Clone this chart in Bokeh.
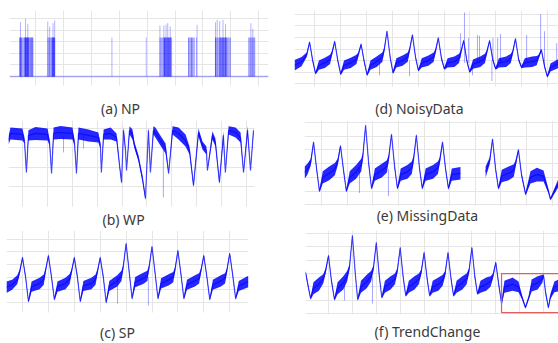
import numpy as np
from bokeh.plotting import figure
from bokeh.layouts import column, row
from bokeh.models import Label, FixedTicker, Range1d, BoxAnnotation
from bokeh.embed import file_html
from bokeh.resources import INLINE

BLUE = "#0000ff"
GRID = "#e5e5e5"
TXT = "#3a3a3a"
FONT = "Noto Sans"

titles = ["(a) NP", "(b) WP", "(c) SP", "(d) NoisyData", "(e) MissingData", "(f) TrendChange"]

# ---------------- (a) NP : bursts of pulses on a zero baseline ----------------
np_span = [7, 935]
np_level = 3.36
np_burst_x = [43, 44.5, 46, 47.5, 49, 50.5, 52, 55, 58, 61,
              62, 63, 64, 65, 66, 67, 68, 69, 70, 71, 72, 73, 74, 75, 76,
              78, 80, 82, 84, 85, 87, 88, 90, 91,
              144, 147, 150, 153, 156, 158,
              160, 161, 162, 163, 164, 165, 166, 167, 168, 169,
              374, 497,
              546, 549, 552, 555, 558,
              561, 562, 562, 563, 565, 566, 568, 569, 571, 572, 574, 575, 577, 578, 578,
              580, 581, 583, 584, 586, 588,
              649, 649, 651, 655, 658, 660, 660, 663, 666, 670, 677,
              745, 745, 748, 751, 754, 757,
              760, 761.5, 763, 764.5, 766, 767.5, 769, 770.5, 772, 773.5, 775, 776.5,
              778, 779.5, 781, 782.5, 784, 785.5, 787,
              790, 793, 796, 799,
              864, 866, 869, 872, 875, 878, 881, 884, 886]
np_peak_x = [46.4, 64.3, 72.6, 144, 151, 163, 169, 546, 560, 568, 574, 583, 679,
             745, 751, 760, 772, 781, 872, 879]
np_peak_v = [4.68, 4.97, 4.54, 4.74, 4.31, 4.60, 4.83, 4.40, 4.40, 4.48, 4.60, 4.31, 4.45,
             4.68, 4.88, 4.77, 4.88, 4.54, 4.60, 4.11]

# ---------------- (b) WP ----------------
wp_t = [44, 52, 100, 108, 116, 124, 152, 201, 209, 217, 225, 253, 301, 309, 317, 325, 365,
        405, 413, 417, 426, 454, 478, 490, 498, 506, 514, 518, 530, 542, 550, 566, 582, 594,
        606, 614, 626, 634, 654, 675, 687, 703, 727, 755, 771, 787, 807, 823, 839, 843, 863,
        875, 891, 907, 915, 928, 956, 976, 988, 1004, 1016, 1028]
wp_v = [3.39, 3.75, 3.70, 3.39, 1.73, 3.65, 3.75, 3.70, 3.28, 1.68, 3.75, 3.80, 3.75, 3.28,
        1.68, 3.75, 3.65, 3.54, 3.13, 1.73, 3.70, 3.75, 3.54, 2.10, 1.22, 3.91, 2.87, 1.84,
        3.91, 3.70, 3.13, 2.46, 1.42, 0.39, 3.91, 1.73, 3.91, 3.80, 3.39, 2.97, 1.68, 3.91,
        3.75, 3.39, 2.87, 1.06, 3.80, 3.13, 2.87, 1.84, 3.65, 3.28, 1.22, 3.65, 1.73, 3.91,
        3.80, 3.54, 1.73, 3.91, 1.84, 3.91]
wp_n = [0.21, 0.31, 0.31, 0.16, 0.05, 0.26, 0.34, 0.31, 0.16, 0.05, 0.31, 0.34, 0.31, 0.16,
        0.05, 0.31, 0.31, 0.26, 0.16, 0.05, 0.26, 0.31, 0.21, 0.10, 0.10, 0.16, 0.10, 0.05,
        0.21, 0.26, 0.16, 0.16, 0.16, 0.10, 0.16, 0.05, 0.21, 0.26, 0.26, 0.26, 0.05, 0.21,
        0.31, 0.31, 0.21, 0.10, 0.21, 0.21, 0.21, 0.05, 0.21, 0.21, 0.10, 0.21, 0.05, 0.21,
        0.26, 0.26, 0.05, 0.21, 0.05, 0.16]
wp_spike_t = [265, 345, 666]
wp_spike_base = [3.6, 3.6, 3.0]
wp_spike_tip = [2.77, 2.97, 0.44]

# ---------------- (c) SP ----------------
sp_t = [38, 60, 80, 89, 100, 112, 123, 135, 166, 182, 189, 200, 212, 223, 235, 266, 282, 289,
        300, 312, 323, 335, 366, 382, 389, 400, 412, 423, 435, 466, 482, 489, 500, 512, 523,
        535, 566, 582, 589, 600, 612, 623, 635, 666, 682, 689, 700, 712, 723, 735, 766, 782,
        789, 800, 812, 823, 835, 866, 882, 889, 900, 912, 923, 935, 972]
sp_v = [1.2, 1.4, 1.8, 2.4, 3.54, 2.0, 0.08, 1.25, 1.5, 1.8, 2.5, 3.70, 2.0, 0.24, 1.25, 1.5,
        1.85, 2.4, 3.54, 2.0, 0.08, 1.3, 1.5, 1.8, 2.4, 3.54, 2.0, 0.0, 1.3, 1.7, 2.1, 2.8,
        4.65, 2.4, 0.31, 1.6, 1.9, 2.1, 2.8, 4.41, 2.3, 0.31, 1.5, 1.8, 2.0, 2.6, 4.09, 2.2,
        0.31, 1.4, 1.7, 1.9, 2.5, 3.70, 2.0, 0.24, 1.4, 1.7, 1.9, 2.5, 3.86, 2.1, 0.31, 1.3,
        1.65]
sp_n = [0.45, 0.4, 0.35, 0.2, 0.1, 0.15, 0.1, 0.4, 0.45, 0.4, 0.2, 0.1, 0.15, 0.1, 0.4, 0.45,
        0.4, 0.2, 0.1, 0.15, 0.1, 0.4, 0.45, 0.4, 0.2, 0.1, 0.15, 0.1, 0.4, 0.45, 0.4, 0.2,
        0.1, 0.15, 0.1, 0.4, 0.45, 0.4, 0.2, 0.1, 0.15, 0.1, 0.4, 0.45, 0.4, 0.2, 0.1, 0.15,
        0.1, 0.4, 0.45, 0.4, 0.2, 0.1, 0.15, 0.1, 0.4, 0.45, 0.4, 0.2, 0.1, 0.15, 0.1, 0.4,
        0.45]
sp_spike_t = [467, 586]
sp_spike_base = [2.0, 2.0]
sp_spike_tip = [-0.08, -0.24]

# ---------------- (d) NoisyData ----------------
nd_t = [23, 50, 70, 81, 93, 104, 117, 140, 160, 167, 178, 190, 201, 214, 240, 262, 269, 280,
        292, 303, 316, 340, 362, 369, 380, 392, 403, 416, 440, 460, 467, 478, 490, 501, 514,
        540, 560, 567, 578, 590, 601, 614, 640, 658, 665, 676, 688, 699, 712, 740, 758, 765,
        776, 788, 799, 812, 840, 858, 865, 876, 888, 899, 912, 940, 958, 965, 976, 988, 999,
        1011, 1042]
nd_v = [1.6, 1.9, 2.5, 3.6, 2.0, 0.89, 1.6, 1.8, 2.1, 2.6, 3.65, 2.0, 0.84, 1.6, 1.8, 2.1,
        2.5, 3.41, 1.9, 0.76, 1.6, 1.9, 2.3, 2.9, 4.54, 2.3, 0.95, 1.8, 2.0, 2.3, 2.9, 4.22,
        2.3, 1.16, 1.8, 2.0, 2.3, 2.8, 3.97, 2.2, 1.3, 1.8, 1.9, 2.2, 2.7, 3.73, 2.0, 1.03,
        1.7, 1.9, 2.2, 2.7, 3.73, 2.1, 1.3, 1.8, 1.9, 2.2, 2.7, 3.89, 2.1, 1.43, 1.8, 1.9,
        2.0, 2.3, 2.92, 1.5, 0.62, 1.4, 1.75]
nd_n = [0.45, 0.4, 0.2, 0.1, 0.15, 0.1, 0.4, 0.45, 0.4, 0.2, 0.1, 0.15, 0.1, 0.4, 0.45, 0.4,
        0.2, 0.1, 0.15, 0.1, 0.4, 0.45, 0.4, 0.2, 0.1, 0.15, 0.1, 0.4, 0.45, 0.4, 0.2, 0.1,
        0.15, 0.1, 0.4, 0.45, 0.4, 0.2, 0.1, 0.15, 0.1, 0.4, 0.45, 0.4, 0.2, 0.1, 0.15, 0.1,
        0.4, 0.45, 0.4, 0.2, 0.1, 0.15, 0.1, 0.4, 0.45, 0.4, 0.2, 0.1, 0.15, 0.1, 0.4, 0.45,
        0.4, 0.2, 0.1, 0.15, 0.1, 0.35, 0.4]
nd_spike_t = [351, 467, 664, 679, 695, 710, 729, 737, 785, 789, 807, 818, 919, 973, 988, 1035]
nd_spike_base = [1.9, 2.0, 2.2, 1.8, 1.8, 1.7, 1.8, 1.8, 2.0, 2.0, 1.8, 1.8, 1.8, 2.6, 1.5,
                 1.7]
nd_spike_tip = [0.73, 0.65, 4.38, 6.16, 3.97, 0.73, 4.22, 4.14, 0.24, 3.97, 3.97, 4.30, 4.22,
                6.0, 4.54, 3.5]

# ---------------- (e) MissingData (nan = missing stretch) ----------------
nan = float("nan")
md_t = [34, 45, 58, 69, 81, 92, 105, 130, 152, 163, 174, 186, 197, 210, 235, 255, 261, 272,
        284, 295, 308, 335, 355, 362, 373, 385, 396, 409, 435, 452, 459, 470, 482, 493, 506,
        535, 554, 561, 572, 584, 595, 608, 642, nan, 740, 756, 767, 779, 790, 803, 830, 850,
        857, 868, 880, 896, 915, 940, 966, 985, 993, 1024]
md_v = [2.35, 2.6, 3.1, 4.57, 2.6, 1.0, 2.0, 2.3, 2.6, 3.1, 4.29, 2.5, 1.0, 2.0, 2.4, 2.9,
        3.5, 5.79, 3.0, 1.21, 2.2, 2.5, 2.8, 3.4, 5.14, 2.8, 1.21, 2.2, 2.4, 2.7, 3.3, 5.07,
        2.7, 1.21, 2.2, 2.4, 2.7, 3.2, 4.57, 2.6, 1.21, 2.2, 2.3, nan, 2.4, 3.2, 4.79, 2.6,
        1.21, 2.1, 2.3, 2.5, 3.0, 4.0, 2.2, 0.79, 2.0, 2.2, 2.1, 1.0, 0.43, 1.6]
md_n = [0.45, 0.4, 0.25, 0.1, 0.15, 0.1, 0.45, 0.5, 0.45, 0.25, 0.1, 0.15, 0.1, 0.45, 0.5,
        0.45, 0.25, 0.1, 0.15, 0.1, 0.45, 0.5, 0.45, 0.25, 0.1, 0.15, 0.1, 0.45, 0.5, 0.45,
        0.25, 0.1, 0.15, 0.1, 0.45, 0.5, 0.45, 0.25, 0.1, 0.15, 0.1, 0.45, 0.45, nan, 0.4,
        0.25, 0.1, 0.15, 0.1, 0.45, 0.5, 0.45, 0.25, 0.1, 0.15, 0.1, 0.45, 0.5, 0.4, 0.15,
        0.1, 0.3]
md_spike_t = [248, 361]
md_spike_base = [2.6, 2.6]
md_spike_tip = [0.86, 0.64]

# ---------------- (f) TrendChange ----------------
tc_t = [4, 25, 37, 60, 78, 88, 100, 112, 125, 138, 162, 178, 188, 200, 212, 222, 236, 260,
        278, 288, 300, 312, 323, 336, 360, 378, 388, 400, 412, 423, 436, 460, 478, 488, 500,
        512, 523, 536, 560, 578, 588, 600, 612, 623, 636, 660, 678, 688, 700, 712, 723, 736,
        760, 778, 788, 800, 812, 824, 836, 870, 895, 910, 924, 938, 950, 975, 995, 1000,
        1008, 1020, 1029, 1045, 1062]
tc_v = [3.08, 1.13, 1.9, 2.2, 2.6, 3.2, 4.35, 2.5, 1.05, 1.9, 2.3, 2.8, 3.5, 5.85, 3.0, 1.05,
        2.0, 2.4, 2.8, 3.4, 5.33, 2.9, 1.2, 2.0, 2.3, 2.6, 3.2, 4.95, 2.8, 1.35, 2.0, 2.3,
        2.6, 3.1, 4.58, 2.7, 1.35, 2.0, 2.2, 2.5, 3.0, 4.58, 2.7, 1.35, 2.0, 2.3, 2.6, 3.2,
        4.95, 2.8, 1.5, 2.0, 2.2, 2.4, 2.8, 3.83, 2.2, 0.75, 2.0, 2.2, 2.0, 1.2, 0.45, 1.2,
        2.1, 2.3, 2.6, 2.85, 1.6, 0.45, 1.3, 2.0, 2.1]
tc_n = [0.15, 0.1, 0.45, 0.5, 0.35, 0.2, 0.1, 0.15, 0.1, 0.45, 0.5, 0.4, 0.2, 0.1, 0.15, 0.1,
        0.45, 0.5, 0.4, 0.2, 0.1, 0.15, 0.1, 0.45, 0.5, 0.4, 0.2, 0.1, 0.15, 0.1, 0.45, 0.5,
        0.4, 0.2, 0.1, 0.15, 0.1, 0.45, 0.5, 0.4, 0.2, 0.1, 0.15, 0.1, 0.45, 0.5, 0.4, 0.2,
        0.1, 0.15, 0.1, 0.45, 0.5, 0.4, 0.2, 0.1, 0.15, 0.1, 0.45, 0.5, 0.4, 0.15, 0.1, 0.15,
        0.45, 0.5, 0.3, 0.1, 0.15, 0.1, 0.2, 0.4, 0.45]
tc_spike_t = [167, 284]
tc_spike_base = [2.3, 2.8]
tc_spike_tip = [0.98, 0.75]
tc_window = [824, 1100, 0.07, 3.0]   # left, right, bottom, top of the highlighted trend change


def make_fig(width, height, left, right, top, xr, yr, grid_floor, xticks, yticks):
    p = figure(width=width, height=height, x_range=Range1d(*xr), y_range=Range1d(*yr),
               output_backend="svg", toolbar_location=None,
               min_border_left=left, min_border_right=right,
               min_border_top=top, min_border_bottom=0)
    p.xaxis.visible = False
    p.yaxis.visible = False
    p.xgrid.ticker = FixedTicker(ticks=xticks)
    p.ygrid.ticker = FixedTicker(ticks=yticks)
    p.grid.grid_line_color = GRID
    p.grid.grid_line_width = 1
    p.outline_line_color = None
    p.background_fill_color = "white"
    p.border_fill_color = "white"
    # blank strip under the grid that holds the caption
    p.add_layout(BoxAnnotation(top=grid_floor, fill_color="white", fill_alpha=1.0,
                               line_color=None))
    return p


def add_title(p, text, x, y):
    p.add_layout(Label(x=x, y=y, text=text, text_align="center", text_baseline="middle",
                       text_font=FONT, text_font_size="14px", text_color=TXT))


def draw_band(p, t, v, n):
    t = np.asarray(t, float)
    v = np.asarray(v, float)
    n = np.asarray(n, float)
    bad = np.where(np.isnan(v))[0]
    for seg in np.split(np.arange(len(t)), bad):
        seg = seg[~np.isnan(v[seg])]
        if len(seg) < 2:
            continue
        p.varea(x=t[seg], y1=v[seg] - n[seg], y2=v[seg] + n[seg],
                fill_color=BLUE, fill_alpha=0.85)
        p.line(t[seg], v[seg], line_color=BLUE, line_width=1.2, line_alpha=0.65)


def draw_spikes(p, t, base, tip):
    p.segment(x0=t, y0=base, x1=t, y1=tip, line_color=BLUE, line_alpha=0.35, line_width=1)


ticks100_9 = [100, 200, 300, 400, 500, 600, 700, 800, 900]
ticks100_10 = ticks100_9 + [1000]

# row 1: 0..117 px, row 2: 117..230 px, row 3: 230..343 px; columns 0..288 and 288..558

# (a) NP
pa = make_fig(288, 117, 9, 20, 10, (7, 935), (-3.53, 5.69), -0.78, ticks100_9,
              [0, 1, 2, 3, 4, 5])
pa.line(np_span, [0, 0], line_color=BLUE, line_alpha=0.3, line_width=1.5)
pa.segment(x0=np_burst_x, y0=[0] * len(np_burst_x), x1=np_burst_x,
           y1=[np_level] * len(np_burst_x), line_color=BLUE, line_alpha=0.3, line_width=1)
pa.segment(x0=np_peak_x, y0=[0] * len(np_peak_x), x1=np_peak_x, y1=np_peak_v,
           line_color=BLUE, line_alpha=0.3, line_width=1)
add_title(pa, titles[0], 405, -2.76)

# (d) NoisyData
pd_ = make_fig(270, 117, 6, 0, 3, (22.8, 1042), (-2.92, 6.33), -0.24, ticks100_10,
               [0, 1, 2, 3, 4, 5, 6])
draw_band(pd_, nd_t, nd_v, nd_n)
draw_spikes(pd_, nd_spike_t, nd_spike_base, nd_spike_tip)
add_title(pd_, titles[3], 505, -2.11)

# (b) WP
pb = make_fig(288, 113, 8, 34, 3, (44, 1032), (-1.27, 4.42), -0.03, ticks100_10, [1, 2, 3, 4])
draw_band(pb, wp_t, wp_v, wp_n)
draw_spikes(pb, wp_spike_t, wp_spike_base, wp_spike_tip)
add_title(pb, titles[1], 506, -0.72)

# (e) MissingData
pe = make_fig(270, 113, 16, 0, 1, (33.7, 1024.3), (-1.86, 6.14), -0.07, ticks100_10,
              [0, 1, 2, 3, 4, 5, 6])
draw_band(pe, md_t, md_v, md_n)
draw_spikes(pe, md_spike_t, md_spike_base, md_spike_tip)
add_title(pe, titles[4], 513, -0.79)

# (c) SP
pc = make_fig(288, 113, 6, 40, 0, (38.2, 972.6), (-3.23, 5.67), -0.79, ticks100_9,
              [0, 1, 2, 3, 4, 5])
draw_band(pc, sp_t, sp_v, sp_n)
draw_spikes(pc, sp_spike_t, sp_spike_base, sp_spike_tip)
add_title(pc, titles[2], 467, -2.36)

# (f) TrendChange
pf = make_fig(270, 113, 17, 0, 0, (3.8, 1062.3), (-2.25, 6.23), -0.075, ticks100_10,
              [0, 1, 2, 3, 4, 5, 6])
draw_band(pf, tc_t, tc_v, tc_n)
draw_spikes(pf, tc_spike_t, tc_spike_base, tc_spike_tip)
pf.quad(left=[tc_window[0]], right=[tc_window[1]], bottom=[tc_window[2]], top=[tc_window[3]],
        fill_color=None, line_color="#e35d5d", line_width=1.2)
add_title(pf, titles[5], 514, -1.35)

layout = column(row(pa, pd_), row(pb, pe), row(pc, pf))
open("out.html", "w").write(file_html(layout, INLINE, "chart"))
